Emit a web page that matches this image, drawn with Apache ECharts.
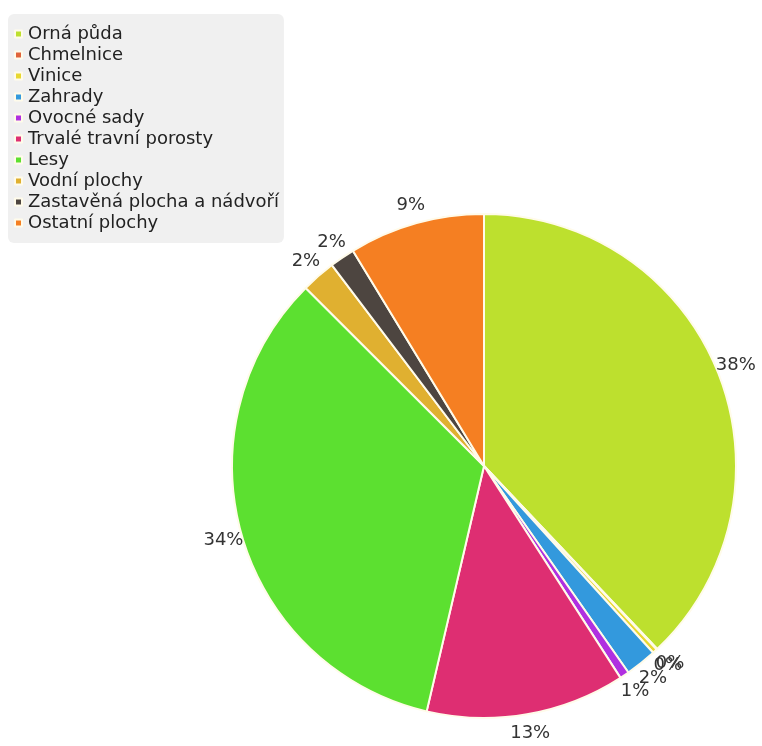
<!DOCTYPE html>
<html>
<head>
<meta charset="utf-8">
<script src="https://cdn.jsdelivr.net/npm/echarts@6/dist/echarts.min.js"></script>
<style>html,body{margin:0;padding:0;background:#fff;}#c{width:762px;height:746px;}</style>
</head>
<body>
<div id="c"></div>
<script>
const categories = ["Orná půda","Chmelnice","Vinice","Zahrady","Ovocné sady","Trvalé travní porosty","Lesy","Vodní plochy","Zastavěná plocha a nádvoří","Ostatní plochy"];
const values = [37.9, 0.05, 0.3, 2.0, 0.6, 12.75, 33.8, 2.2, 1.6, 8.7];
const colors = ["#bde02e","#e0643a","#e8d830","#3399dd","#b030e0","#de2e72","#5ce030","#e0b030","#4d4540","#f57f22"];

const chart = echarts.init(document.getElementById('c'), null, {renderer:'canvas'});
const LABEL_OFFSET = 19;
chart.setOption({
  animation: false,
  color: colors,
  legend: {
    orient: 'vertical',
    left: 8, top: 14,
    backgroundColor: '#f0f0f0',
    borderRadius: 6,
    padding: [11, 5, 11, 6],
    itemWidth: 7, itemHeight: 7, itemGap: 3,
    icon: 'rect',
    selectedMode: false,
    textStyle: {fontFamily: 'DejaVu Sans', fontSize: 18, color: '#222', lineHeight: 18, padding: [0,0,0,1]},
    data: categories
  },
  series: [{
    type: 'pie',
    center: [484, 466],
    radius: [0, 252],
    startAngle: 90,
    clockwise: true,
    avoidLabelOverlap: false,
    minShowLabelAngle: 0,
    itemStyle: {borderColor: '#fffbea', borderWidth: 2},
    label: {
      show: true,
      position: 'outside',
      fontFamily: 'DejaVu Sans',
      fontSize: 18,
      color: '#333',
      formatter: p => Math.round(p.percent) + '%'
    },
    labelLine: {show: false, length: 2, length2: 0},
    labelLayout: function (params) {
      const data = chart.getModel().getSeriesByIndex(0).getData();
      const l = data.getItemLayout(params.dataIndex);
      const a = (l.startAngle + l.endAngle) / 2;
      const rr = l.r + LABEL_OFFSET;
      return {
        x: l.cx + rr * Math.cos(a),
        y: l.cy + rr * Math.sin(a),
        align: 'center',
        verticalAlign: 'middle',
        hideOverlap: false,
        moveOverlap: null
      };
    },
    emphasis: {disabled: true},
    data: categories.map((n, i) => ({name: n, value: values[i]}))
  }]
});
</script>
</body>
</html>
